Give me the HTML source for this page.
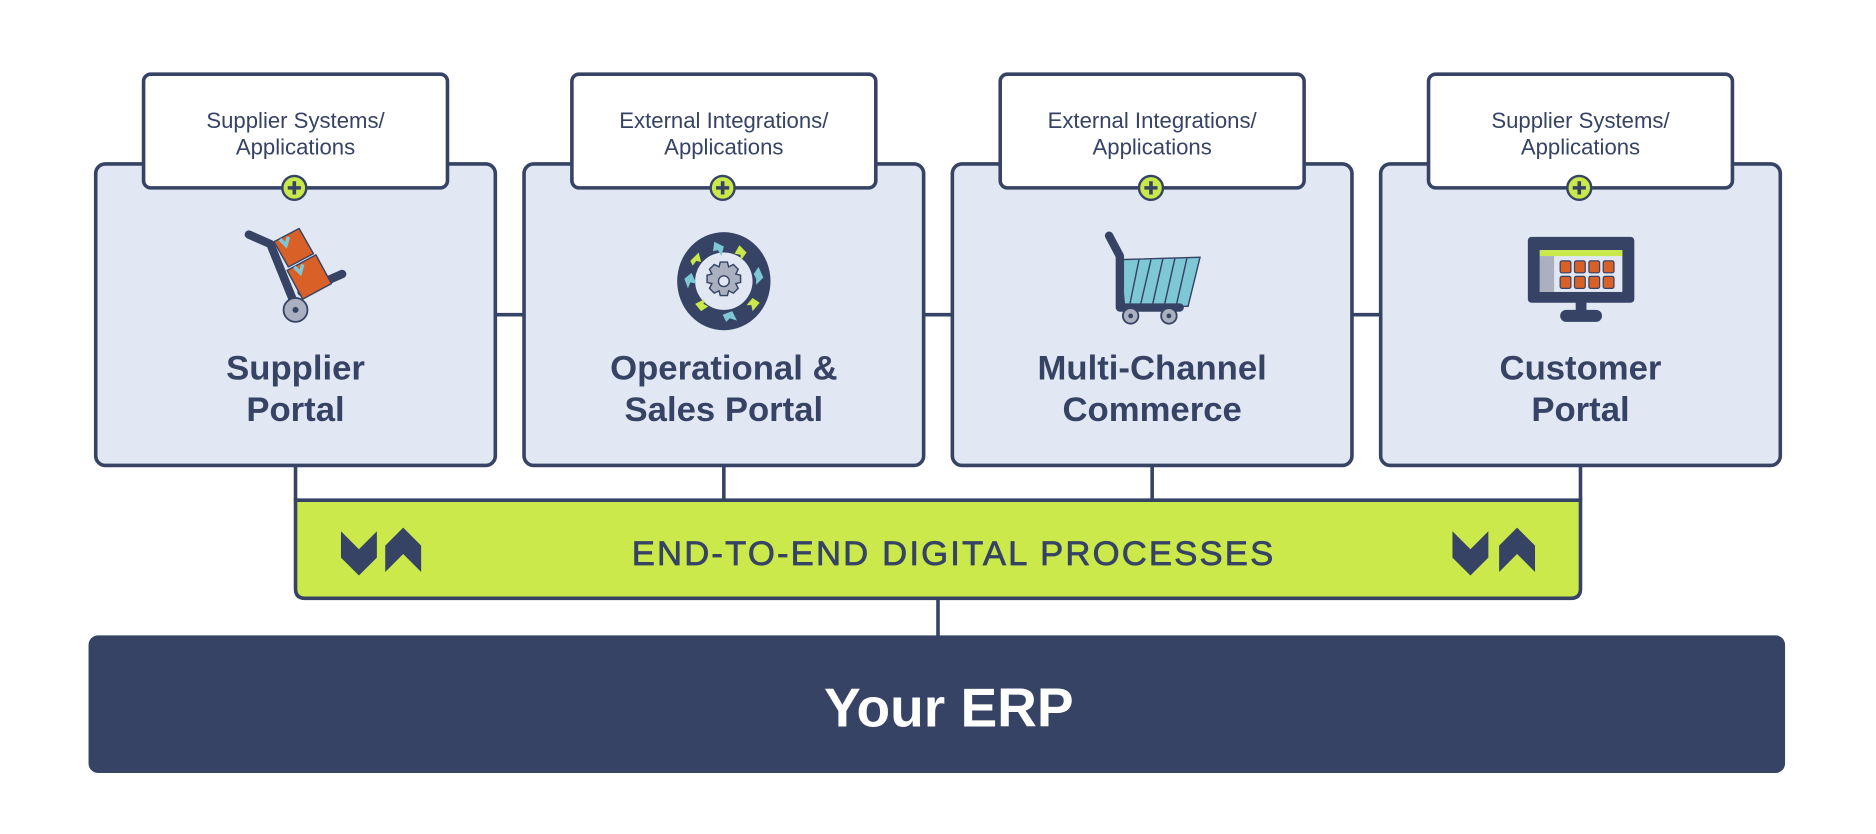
<!DOCTYPE html>
<html><head><meta charset="utf-8"><style>
html,body{margin:0;padding:0;background:#fff;}
svg{display:block;}
.lbl{font-family:"Liberation Sans",sans-serif;font-size:18.5px;fill:#364364;text-anchor:middle;}
.ttl{font-family:"Liberation Sans",sans-serif;font-weight:bold;font-size:29px;fill:#364364;text-anchor:middle;}
</style></head><body>
<svg width="1876" height="834" viewBox="0 0 1568 697" preserveAspectRatio="none" xmlns="http://www.w3.org/2000/svg">
<g stroke="#364364" stroke-width="3" fill="none">
  <line x1="414" y1="263" x2="438" y2="263"/>
  <line x1="772" y1="263" x2="796" y2="263"/>
  <line x1="1130" y1="263" x2="1154" y2="263"/>
  <line x1="247" y1="389" x2="247" y2="418"/>
  <line x1="605" y1="389" x2="605" y2="418"/>
  <line x1="963" y1="389" x2="963" y2="418"/>
  <line x1="1321" y1="389" x2="1321" y2="418"/>
  <line x1="784" y1="500" x2="784" y2="532"/>
</g>
<g stroke="#364364" stroke-width="3" fill="#e1e8f3">
  <rect x="80" y="137" width="334" height="252" rx="8"/>
  <rect x="438" y="137" width="334" height="252" rx="8"/>
  <rect x="796" y="137" width="334" height="252" rx="8"/>
  <rect x="1154" y="137" width="334" height="252" rx="8"/>
</g>
<g stroke="#364364" stroke-width="3" fill="#fff">
  <rect x="120" y="62" width="254" height="95" rx="6"/>
  <rect x="478" y="62" width="254" height="95" rx="6"/>
  <rect x="836" y="62" width="254" height="95" rx="6"/>
  <rect x="1194" y="62" width="254" height="95" rx="6"/>
</g>
<g>
  <text class="lbl" x="247" y="107">Supplier Systems/</text><text class="lbl" x="247" y="129">Applications</text>
  <text class="lbl" x="605" y="107">External Integrations/</text><text class="lbl" x="605" y="129">Applications</text>
  <text class="lbl" x="963" y="107">External Integrations/</text><text class="lbl" x="963" y="129">Applications</text>
  <text class="lbl" x="1321" y="107">Supplier Systems/</text><text class="lbl" x="1321" y="129">Applications</text>
</g>
<g>
  <g transform="translate(246,157)"><circle r="10" fill="#c9e84a" stroke="#364364" stroke-width="2"/><path d="M-5.5,0H5.5M0,-5.5V5.5" stroke="#364364" stroke-width="3"/></g>
  <g transform="translate(604,157)"><circle r="10" fill="#c9e84a" stroke="#364364" stroke-width="2"/><path d="M-5.5,0H5.5M0,-5.5V5.5" stroke="#364364" stroke-width="3"/></g>
  <g transform="translate(962,157)"><circle r="10" fill="#c9e84a" stroke="#364364" stroke-width="2"/><path d="M-5.5,0H5.5M0,-5.5V5.5" stroke="#364364" stroke-width="3"/></g>
  <g transform="translate(1320,157)"><circle r="10" fill="#c9e84a" stroke="#364364" stroke-width="2"/><path d="M-5.5,0H5.5M0,-5.5V5.5" stroke="#364364" stroke-width="3"/></g>
</g>
<!-- trolley -->
<g>
  <path d="M252,244 L286,229" stroke="#364364" stroke-width="7" stroke-linecap="round"/>
  <path d="M229,202 L250,191 L262,212 L241,223 Z" fill="#d96127" stroke="#364364" stroke-width="1.2" stroke-linejoin="round"/>
  <path d="M240,226 L264,213 L277,237 L253,250 Z" fill="#d96127" stroke="#364364" stroke-width="1.2" stroke-linejoin="round"/>
  <path d="M234,200 l5,5 l2,-7 M246,223 l5,5 l2,-7" stroke="#7ec8d6" stroke-width="3" fill="none"/>
  <path d="M247,256 L226,204 L208,196" stroke="#364364" stroke-width="7" stroke-linecap="round" stroke-linejoin="round" fill="none"/>
  <circle cx="247" cy="259" r="10" fill="#aab0c0" stroke="#364364" stroke-width="1.5"/>
  <circle cx="247" cy="259" r="2.5" fill="#364364"/>
</g>
<!-- gear wheel -->
<g transform="translate(605,235)">
  <ellipse rx="39" ry="41" fill="#364364"/>
  <circle r="24" fill="#e1e8f3"/>
  <g fill="#7ec8d6">
    <path d="M-8,-33 l8,4 l-2,8 l-3,-5 l-4,1z"/><path d="M25,-6 l4,-6 l4,9 l-6,6 l0,-5z"/><path d="M-1,28 l8,-3 l4,8 l-6,-2 l-3,3z"/><path d="M-33,-2 l6,-5 l4,9 l-5,-1 l-2,5z"/>
  </g>
  <g fill="#c9e84a">
    <path d="M13,-30 l6,6 l-5,7 l0,-5 l-5,-1z"/><path d="M24,14 l6,4 l-6,7 l-1,-5 l-4,0z"/><path d="M-19,25 l-5,-6 l8,-4 l-1,4 l4,2z"/><path d="M-28,-17 l7,-7 l2,8 l-4,-1 l-3,4z"/>
  </g>
  <g fill="#aab0c0" stroke="#364364" stroke-width="1.2">
    <path d="M-3,-16h6l1,4 4,-2 4,4 -2,4 4,1v6l-4,1 2,4 -4,4 -4,-2 -1,4h-6l-1,-4 -4,2 -4,-4 2,-4 -4,-1v-6l4,-1 -2,-4 4,-4 4,2z"/>
    <circle r="4.5" fill="#e1e8f3"/>
  </g>
</g>
<!-- cart -->
<g>
  <path d="M936,217 L1003,215 L993,256 L940,256 Z" fill="#7ec8d6" stroke="#364364" stroke-width="1.2"/>
  <g stroke="#364364" stroke-width="1.2"><line x1="952" y1="217" x2="944" y2="256"/><line x1="962" y1="217" x2="953" y2="256"/><line x1="972" y1="216" x2="963" y2="256"/><line x1="982" y1="216" x2="973" y2="256"/><line x1="992" y1="216" x2="983" y2="256"/></g>
  <path d="M927,197 L936,214 L936,257 L986,257" stroke="#364364" stroke-width="7" stroke-linecap="round" stroke-linejoin="round" fill="none"/>
  <circle cx="945" cy="264" r="6.5" fill="#aab0c0" stroke="#364364" stroke-width="1.5"/><circle cx="945" cy="264" r="2" fill="#364364"/>
  <circle cx="977" cy="264" r="6.5" fill="#aab0c0" stroke="#364364" stroke-width="1.5"/><circle cx="977" cy="264" r="2" fill="#364364"/>
</g>
<!-- monitor -->
<g>
  <rect x="1277" y="198" width="89" height="55" rx="3" fill="#364364"/>
  <rect x="1317" y="252" width="9" height="8" fill="#364364"/>
  <rect x="1304" y="259" width="35" height="10" rx="5" fill="#364364"/>
  <rect x="1287" y="209" width="69" height="35" fill="#e1e8f3"/>
  <rect x="1287" y="209" width="69" height="5" fill="#c9e84a"/>
  <rect x="1287" y="214" width="12" height="30" fill="#aab0c0"/>
  <g fill="#d96127" stroke="#364364" stroke-width="1">
    <rect x="1304" y="218" width="9" height="10" rx="1.5"/><rect x="1316" y="218" width="9" height="10" rx="1.5"/><rect x="1328" y="218" width="9" height="10" rx="1.5"/><rect x="1340" y="218" width="9" height="10" rx="1.5"/>
    <rect x="1304" y="231" width="9" height="10" rx="1.5"/><rect x="1316" y="231" width="9" height="10" rx="1.5"/><rect x="1328" y="231" width="9" height="10" rx="1.5"/><rect x="1340" y="231" width="9" height="10" rx="1.5"/>
  </g>
</g>
<g>
  <text class="ttl" x="247" y="317">Supplier</text><text class="ttl" x="247" y="352">Portal</text>
  <text class="ttl" x="605" y="317">Operational &amp;</text><text class="ttl" x="605" y="352">Sales Portal</text>
  <text class="ttl" x="963" y="317">Multi-Channel</text><text class="ttl" x="963" y="352">Commerce</text>
  <text class="ttl" x="1321" y="317">Customer</text><text class="ttl" x="1321" y="352">Portal</text>
</g>
<!-- green bar -->
<path d="M247,418 H1321 V492 Q1321,500 1313,500 H255 Q247,500 247,492 Z" fill="#cbe94b" stroke="#364364" stroke-width="3"/>
<g fill="#364364">
  <path d="M285,444 L300,459 L315,444 L315,466 L300,481 L285,466 Z"/>
  <path d="M322,456 L337,441 L352,456 L352,478 L337,463 L322,478 Z"/>
  <path d="M1214,444 L1229,459 L1244,444 L1244,466 L1229,481 L1214,466 Z"/>
  <path d="M1253,456 L1268,441 L1283,456 L1283,478 L1268,463 L1253,478 Z"/>
</g>
<text x="797" y="472" text-anchor="middle" font-family="Liberation Sans, sans-serif" font-size="29" fill="#364364" stroke="#364364" stroke-width="0.6" letter-spacing="1.8">END-TO-END DIGITAL PROCESSES</text>
<!-- ERP -->
<rect x="74" y="531" width="1418" height="115" rx="8" fill="#374364"/>
<text x="793" y="607" text-anchor="middle" font-family="Liberation Sans, sans-serif" font-weight="bold" font-size="46" fill="#fff">Your ERP</text>
</svg>
</body></html>
